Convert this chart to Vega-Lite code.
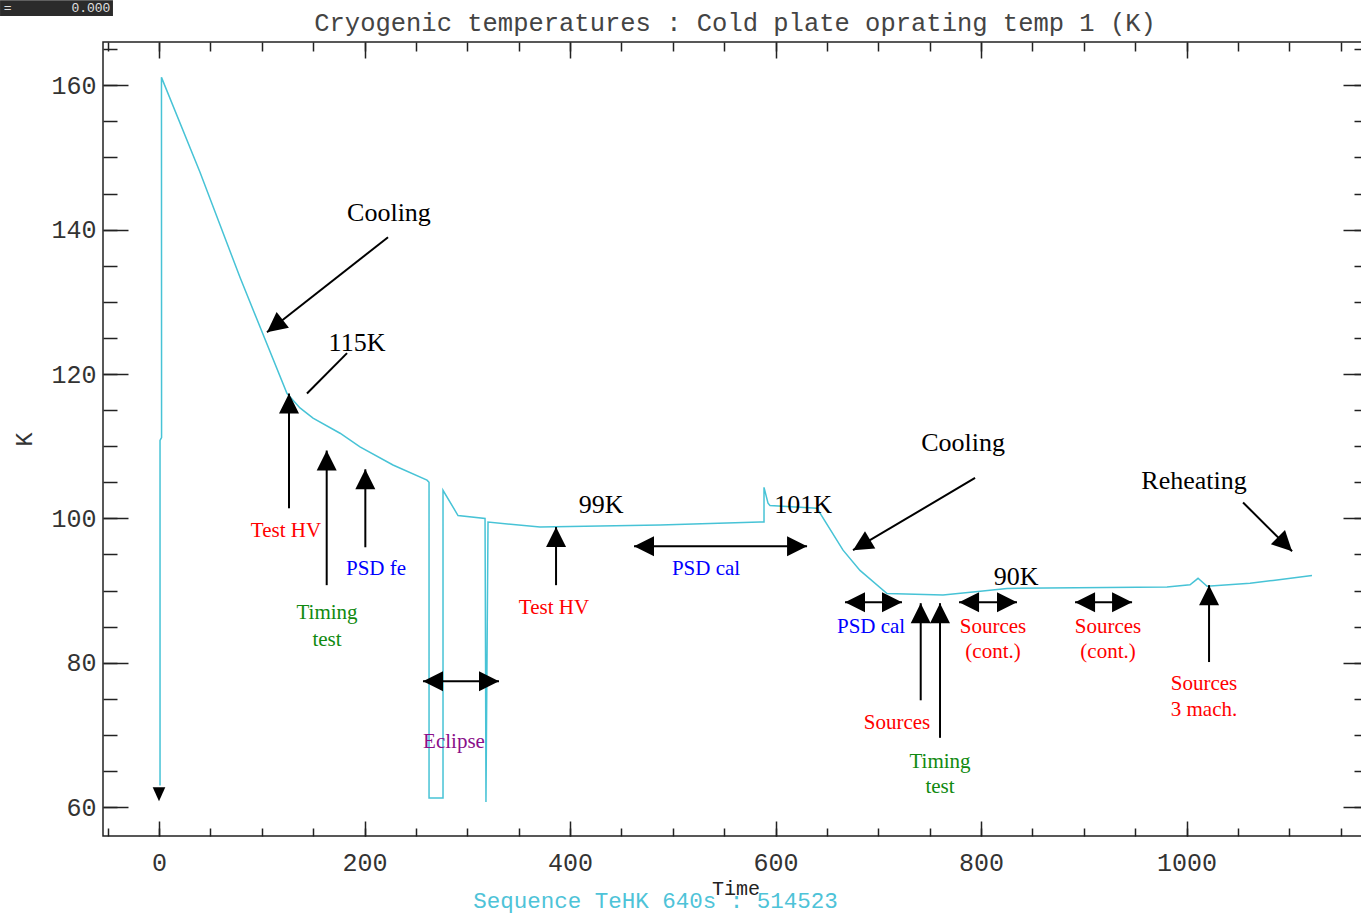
{
  "$schema": "https://vega.github.io/schema/vega-lite/v6.json",
  "width": 1265,
  "height": 794,
  "autosize": {"type": "none"},
  "padding": {"left": 103, "top": 42, "right": -7, "bottom": 79},
  "background": "white",
  "config": {
    "view": {"stroke": "#222", "strokeWidth": 1.5},
    "axis": {"domain": false, "grid": false, "tickColor": "#222", "tickWidth": 1.5, "labelFont": "Liberation Mono", "labelFontSize": 25, "labelColor": "#333", "titleFont": "Liberation Mono", "titleFontWeight": "normal", "titleColor": "#333", "labelFlush": false, "labelOverlap": false, "labelBound": false, "format": "d"}
  },
  "datasets": {
    "temp": [
      {"i": 1, "t": 1.0, "k": 63.0}, {"i": 2, "t": 1.0, "k": 110.8}, {"i": 3, "t": 2.5, "k": 111.2}, {"i": 4, "t": 2.4, "k": 161.1},
      {"i": 5, "t": 39.9, "k": 147.95}, {"i": 6, "t": 78.8, "k": 133.4},
      {"i": 9, "t": 124.6, "k": 117.3}, {"i": 10, "t": 137.2, "k": 115.3}, {"i": 11, "t": 149.9, "k": 113.9}, {"i": 12, "t": 176.2, "k": 111.8},
      {"i": 13, "t": 195.6, "k": 109.9}, {"i": 14, "t": 227.7, "k": 107.4}, {"i": 15, "t": 260.8, "k": 105.3}, {"i": 16, "t": 262.8, "k": 105.0},
      {"i": 17, "t": 262.8, "k": 61.25}, {"i": 18, "t": 276.4, "k": 61.25}, {"i": 19, "t": 276.4, "k": 103.9}, {"i": 20, "t": 291.0, "k": 100.4},
      {"i": 21, "t": 317.3, "k": 100.0}, {"i": 22, "t": 317.8, "k": 80.4}, {"i": 23, "t": 318.2, "k": 60.7}, {"i": 24, "t": 320.2, "k": 99.5},
      {"i": 25, "t": 370.8, "k": 98.8}, {"i": 26, "t": 487.6, "k": 99.1}, {"i": 27, "t": 584.9, "k": 99.5}, {"i": 28, "t": 588.8, "k": 99.5},
      {"i": 29, "t": 588.8, "k": 104.3}, {"i": 30, "t": 592.7, "k": 102.1}, {"i": 31, "t": 594.6, "k": 101.8}, {"i": 32, "t": 640.4, "k": 101.4},
      {"i": 33, "t": 665.7, "k": 95.6}, {"i": 34, "t": 682.2, "k": 92.8}, {"i": 35, "t": 708.5, "k": 89.6}, {"i": 36, "t": 763.0, "k": 89.4},
      {"i": 37, "t": 792.2, "k": 89.8}, {"i": 38, "t": 825.3, "k": 90.3}, {"i": 39, "t": 981.0, "k": 90.5}, {"i": 40, "t": 1003.4, "k": 90.8},
      {"i": 41, "t": 1011.2, "k": 91.7}, {"i": 42, "t": 1020.0, "k": 90.6}, {"i": 43, "t": 1061.8, "k": 91.0}, {"i": 44, "t": 1084.2, "k": 91.4},
      {"i": 45, "t": 1122.1, "k": 92.1}
    ],
    "heading": [{"t": 560.6, "k": 167.55, "text": "Cryogenic temperatures : Cold plate oprating temp 1 (K)"}],
    "shafts": [
      {"t": 126.5, "k": 101.4, "t2": 126.5, "k2": 117.3},
      {"t": 163.2, "k": 90.75, "t2": 163.2, "k2": 109.4},
      {"t": 200.8, "k": 96.0, "t2": 200.8, "k2": 106.8},
      {"t": 386.4, "k": 90.75, "t2": 386.4, "k2": 98.8},
      {"t": 741.3, "k": 74.8, "t2": 741.3, "k2": 88.25},
      {"t": 760.1, "k": 69.6, "t2": 760.1, "k2": 88.25},
      {"t": 1021.9, "k": 80.1, "t2": 1021.9, "k2": 90.75},
      {"t": 256.9, "k": 77.45, "t2": 330.9, "k2": 77.45},
      {"t": 462.3, "k": 96.15, "t2": 630.7, "k2": 96.15},
      {"t": 667.6, "k": 88.4, "t2": 723.1, "k2": 88.4},
      {"t": 778.6, "k": 88.4, "t2": 835.0, "k2": 88.4},
      {"t": 891.5, "k": 88.4, "t2": 947.0, "k2": 88.4},
      {"t": 222.9, "k": 138.95, "t2": 105.1, "k2": 125.8},
      {"t": 183.0, "k": 122.9, "t2": 144.0, "k2": 117.3},
      {"t": 794.2, "k": 105.6, "t2": 675.4, "k2": 95.6},
      {"t": 1055.0, "k": 102.2, "t2": 1102.7, "k2": 95.45}
    ],
    "headsUp": [
      {"t": 126.5, "k": 117.3}, {"t": 163.2, "k": 109.4}, {"t": 200.8, "k": 106.8},
      {"t": 386.4, "k": 98.8}, {"t": 741.3, "k": 88.25}, {"t": 760.1, "k": 88.25},
      {"t": 1021.9, "k": 90.75}
    ],
    "headsLeft": [
      {"t": 256.9, "k": 77.45}, {"t": 462.3, "k": 96.15}, {"t": 667.6, "k": 88.4},
      {"t": 778.6, "k": 88.4}, {"t": 891.5, "k": 88.4}
    ],
    "headsRight": [
      {"t": 330.9, "k": 77.45}, {"t": 630.7, "k": 96.15}, {"t": 723.1, "k": 88.4},
      {"t": 835.0, "k": 88.4}, {"t": 947.0, "k": 88.4}
    ],
    "headCooling1": [{"t": 105.1, "k": 125.8}],
    "headCooling2": [{"t": 675.4, "k": 95.6}],
    "headReheating": [{"t": 1102.7, "k": 95.45}],
    "start": [{"t": 0.0, "k": 60.8}],
    "blackLabels": [
      {"t": 223.8, "k": 142.3, "text": "Cooling"}, {"t": 192.7, "k": 124.3, "text": "115K"}, {"t": 430.2, "k": 101.8, "text": "99K"},
      {"t": 626.8, "k": 101.8, "text": "101K"}, {"t": 782.5, "k": 110.4, "text": "Cooling"}, {"t": 834.1, "k": 91.9, "text": "90K"},
      {"t": 1007.3, "k": 105.2, "text": "Reheating"}
    ],
    "events": [
      {"t": 123.6, "k": 98.2, "text": "Test HV", "kind": "Test HV"},
      {"t": 211.2, "k": 93.0, "text": "PSD fe", "kind": "PSD"},
      {"t": 163.5, "k": 86.9, "text": "Timing", "kind": "Timing"},
      {"t": 163.5, "k": 83.1, "text": "test", "kind": "Timing"},
      {"t": 287.1, "k": 69.0, "text": "Eclipse", "kind": "Eclipse"},
      {"t": 384.4, "k": 87.6, "text": "Test HV", "kind": "Test HV"},
      {"t": 532.4, "k": 93.0, "text": "PSD cal", "kind": "PSD"},
      {"t": 693.0, "k": 84.9, "text": "PSD cal", "kind": "PSD"},
      {"t": 718.2, "k": 71.6, "text": "Sources", "kind": "Sources"},
      {"t": 760.1, "k": 66.2, "text": "Timing", "kind": "Timing"},
      {"t": 760.1, "k": 62.8, "text": "test", "kind": "Timing"},
      {"t": 811.7, "k": 84.9, "text": "Sources", "kind": "Sources"},
      {"t": 811.7, "k": 81.5, "text": "(cont.)", "kind": "Sources"},
      {"t": 923.6, "k": 84.9, "text": "Sources", "kind": "Sources"},
      {"t": 923.6, "k": 81.5, "text": "(cont.)", "kind": "Sources"},
      {"t": 1017.0, "k": 77.0, "text": "Sources", "kind": "Sources"},
      {"t": 1017.0, "k": 73.4, "text": "3 mach.", "kind": "Sources"}
    ],
    "sequence": [{"t": 483.2, "k": 47.05, "text": "Sequence TeHK 640s : 514523"}],
    "widget": [{"t": -154.7, "t2": -44.8, "k": 171.8, "k2": 169.6}],
    "widgetLeft": [{"t": -151.0, "k": 170.75, "text": "="}],
    "widgetRight": [{"t": -47.3, "k": 170.75, "text": "0.000"}]
  },
  "resolve": {"axis": {"x": "independent", "y": "independent"}},
  "layer": [
    {
      "data": {"name": "temp"},
      "mark": {"type": "line", "color": "#47c3d6", "strokeWidth": 1.5},
      "encoding": {
        "x": {"field": "t", "type": "quantitative", "scale": {"domain": [-54.5, 1176.6], "nice": false, "zero": false},
              "axis": {"orient": "bottom", "values": [0, 200, 400, 600, 800, 1000], "tickSize": -15, "labelPadding": 29, "title": "Time", "titleFontSize": 20, "titlePadding": 3, "titleColor": "#222"}},
        "y": {"field": "k", "type": "quantitative", "scale": {"domain": [56, 166], "nice": false, "zero": false},
              "axis": {"orient": "left", "values": [60, 80, 100, 120, 140, 160], "tickSize": -25, "labelPadding": 32, "title": "K", "titleFontSize": 24, "titlePadding": 14}},
        "order": {"field": "i", "type": "quantitative"}
      }
    },
    {
      "data": {"name": "temp"},
      "mark": {"type": "point", "opacity": 0},
      "encoding": {
        "x": {"field": "t", "type": "quantitative", "scale": {"domain": [-54.5, 1176.6], "nice": false, "zero": false},
              "axis": {"orient": "bottom", "values": [-50, 0, 50, 100, 150, 200, 250, 300, 350, 400, 450, 500, 550, 600, 650, 700, 750, 800, 850, 900, 950, 1000, 1050, 1100, 1150], "tickSize": -8, "labels": false, "title": null}},
        "y": {"field": "k", "type": "quantitative", "scale": {"domain": [56, 166], "nice": false, "zero": false},
              "axis": {"orient": "left", "values": [60, 65, 70, 75, 80, 85, 90, 95, 100, 105, 110, 115, 120, 125, 130, 135, 140, 145, 150, 155, 160, 165], "tickSize": -14, "labels": false, "title": null}}
      }
    },
    {
      "data": {"name": "temp"},
      "mark": {"type": "point", "opacity": 0},
      "encoding": {
        "x": {"field": "t", "type": "quantitative", "scale": {"domain": [-54.5, 1176.6], "nice": false, "zero": false},
              "axis": {"orient": "top", "values": [0, 200, 400, 600, 800, 1000], "tickSize": -16, "labels": false, "title": null}},
        "y": {"field": "k", "type": "quantitative", "scale": {"domain": [56, 166], "nice": false, "zero": false},
              "axis": {"orient": "right", "values": [60, 80, 100, 120, 140, 160], "tickSize": -25, "labels": false, "title": null}}
      }
    },
    {
      "data": {"name": "temp"},
      "mark": {"type": "point", "opacity": 0},
      "encoding": {
        "x": {"field": "t", "type": "quantitative", "scale": {"domain": [-54.5, 1176.6], "nice": false, "zero": false},
              "axis": {"orient": "top", "values": [-50, 0, 50, 100, 150, 200, 250, 300, 350, 400, 450, 500, 550, 600, 650, 700, 750, 800, 850, 900, 950, 1000, 1050, 1100, 1150], "tickSize": -9, "labels": false, "title": null}},
        "y": {"field": "k", "type": "quantitative", "scale": {"domain": [56, 166], "nice": false, "zero": false},
              "axis": {"orient": "right", "values": [60, 65, 70, 75, 80, 85, 90, 95, 100, 105, 110, 115, 120, 125, 130, 135, 140, 145, 150, 155, 160, 165], "tickSize": -14, "labels": false, "title": null}}
      }
    },
    {
      "data": {"name": "heading"},
      "mark": {"type": "text", "font": "Liberation Mono", "fontSize": 25.5, "color": "#444", "align": "center", "baseline": "alphabetic"},
      "encoding": {
        "x": {"field": "t", "type": "quantitative", "axis": null},
        "y": {"field": "k", "type": "quantitative", "axis": null},
        "text": {"field": "text"}
      }
    },
    {
      "data": {"name": "shafts"},
      "mark": {"type": "rule", "color": "black", "strokeWidth": 2},
      "encoding": {
        "x": {"field": "t", "type": "quantitative", "axis": null},
        "y": {"field": "k", "type": "quantitative", "axis": null},
        "x2": {"field": "t2"},
        "y2": {"field": "k2"}
      }
    },
    {
      "data": {"name": "headsUp"},
      "mark": {"type": "point", "shape": "M0,0L0.5,1L-0.5,1Z", "filled": true, "color": "black", "opacity": 1, "size": 1600, "strokeWidth": 0, "angle": 0},
      "encoding": {"x": {"field": "t", "type": "quantitative", "axis": null}, "y": {"field": "k", "type": "quantitative", "axis": null}}
    },
    {
      "data": {"name": "headsRight"},
      "mark": {"type": "point", "shape": "M0,0L0.5,1L-0.5,1Z", "filled": true, "color": "black", "opacity": 1, "size": 1600, "strokeWidth": 0, "angle": 90},
      "encoding": {"x": {"field": "t", "type": "quantitative", "axis": null}, "y": {"field": "k", "type": "quantitative", "axis": null}}
    },
    {
      "data": {"name": "headsLeft"},
      "mark": {"type": "point", "shape": "M0,0L0.5,1L-0.5,1Z", "filled": true, "color": "black", "opacity": 1, "size": 1600, "strokeWidth": 0, "angle": 270},
      "encoding": {"x": {"field": "t", "type": "quantitative", "axis": null}, "y": {"field": "k", "type": "quantitative", "axis": null}}
    },
    {
      "data": {"name": "headCooling1"},
      "mark": {"type": "point", "shape": "M0,0L0.5,1L-0.5,1Z", "filled": true, "color": "black", "opacity": 1, "size": 1600, "strokeWidth": 0, "angle": 232},
      "encoding": {"x": {"field": "t", "type": "quantitative", "axis": null}, "y": {"field": "k", "type": "quantitative", "axis": null}}
    },
    {
      "data": {"name": "headCooling2"},
      "mark": {"type": "point", "shape": "M0,0L0.5,1L-0.5,1Z", "filled": true, "color": "black", "opacity": 1, "size": 1600, "strokeWidth": 0, "angle": 239},
      "encoding": {"x": {"field": "t", "type": "quantitative", "axis": null}, "y": {"field": "k", "type": "quantitative", "axis": null}}
    },
    {
      "data": {"name": "headReheating"},
      "mark": {"type": "point", "shape": "M0,0L0.5,1L-0.5,1Z", "filled": true, "color": "black", "opacity": 1, "size": 1600, "strokeWidth": 0, "angle": 135},
      "encoding": {"x": {"field": "t", "type": "quantitative", "axis": null}, "y": {"field": "k", "type": "quantitative", "axis": null}}
    },
    {
      "data": {"name": "start"},
      "mark": {"type": "point", "shape": "M0,0L0.45,-1L-0.45,-1Z", "filled": true, "color": "black", "opacity": 1, "size": 784, "strokeWidth": 0},
      "encoding": {"x": {"field": "t", "type": "quantitative", "axis": null}, "y": {"field": "k", "type": "quantitative", "axis": null}}
    },
    {
      "data": {"name": "blackLabels"},
      "mark": {"type": "text", "font": "Liberation Serif", "fontSize": 26, "color": "black", "align": "center", "baseline": "middle"},
      "encoding": {
        "x": {"field": "t", "type": "quantitative", "axis": null},
        "y": {"field": "k", "type": "quantitative", "axis": null},
        "text": {"field": "text"}
      }
    },
    {
      "data": {"name": "events"},
      "mark": {"type": "text", "font": "Liberation Serif", "fontSize": 21, "align": "center", "baseline": "middle"},
      "encoding": {
        "x": {"field": "t", "type": "quantitative", "axis": null},
        "y": {"field": "k", "type": "quantitative", "axis": null},
        "text": {"field": "text"},
        "color": {"field": "kind", "type": "nominal", "legend": null,
                  "scale": {"domain": ["Test HV", "Sources", "Timing", "PSD", "Eclipse"], "range": ["#ff0000", "#ff0000", "#108a10", "#0000ff", "#8a108a"]}}
      }
    },
    {
      "data": {"name": "sequence"},
      "mark": {"type": "text", "font": "Liberation Mono", "fontSize": 22.5, "color": "#4ec3d8", "align": "center", "baseline": "middle"},
      "encoding": {
        "x": {"field": "t", "type": "quantitative", "axis": null},
        "y": {"field": "k", "type": "quantitative", "axis": null},
        "text": {"field": "text"}
      }
    },
    {
      "data": {"name": "widget"},
      "mark": {"type": "rect", "color": "#2b2b2b"},
      "encoding": {
        "x": {"field": "t", "type": "quantitative", "axis": null},
        "x2": {"field": "t2"},
        "y": {"field": "k", "type": "quantitative", "axis": null},
        "y2": {"field": "k2"}
      }
    },
    {
      "data": {"name": "widgetLeft"},
      "mark": {"type": "text", "font": "Liberation Mono", "fontSize": 13, "color": "#e0e0e0", "align": "left", "baseline": "middle"},
      "encoding": {
        "x": {"field": "t", "type": "quantitative", "axis": null},
        "y": {"field": "k", "type": "quantitative", "axis": null},
        "text": {"field": "text"}
      }
    },
    {
      "data": {"name": "widgetRight"},
      "mark": {"type": "text", "font": "Liberation Mono", "fontSize": 13, "color": "#e0e0e0", "align": "right", "baseline": "middle"},
      "encoding": {
        "x": {"field": "t", "type": "quantitative", "axis": null},
        "y": {"field": "k", "type": "quantitative", "axis": null},
        "text": {"field": "text"}
      }
    }
  ]
}
